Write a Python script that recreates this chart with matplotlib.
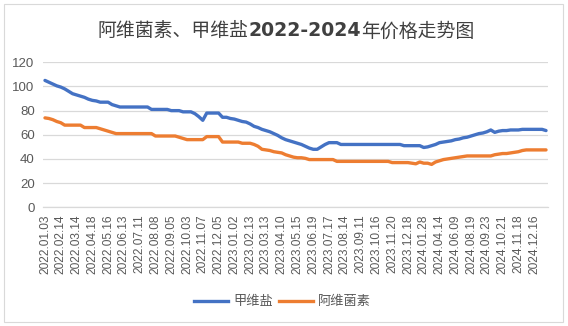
import matplotlib
matplotlib.use("Agg")
import matplotlib.pyplot as plt
from matplotlib.patches import Rectangle
from matplotlib.lines import Line2D

plt.rcParams['font.family'] = ['Noto Sans CJK SC', 'DejaVu Sans']

tick_labels = ["2022.01.03", "2022.02.14", "2022.03.14", "2022.04.18", "2022.05.16",
               "2022.06.13", "2022.07.11", "2022.08.08", "2022.09.05", "2022.10.03",
               "2022.11.07", "2022.12.05", "2023.01.02", "2023.02.13", "2023.03.13",
               "2023.04.10", "2023.05.15", "2023.06.19", "2023.07.17", "2023.08.14",
               "2023.09.11", "2023.10.16", "2023.11.20", "2023.12.18", "2024.01.28",
               "2024.04.14", "2024.06.09", "2024.08.19", "2024.09.23", "2024.10.21",
               "2024.11.18", "2024.12.16"]

emamectin = [105, 103.5, 102, 100.5, 99.5, 98, 96, 94, 93, 92,
             91, 89.5, 88.5, 88, 87, 87, 87, 85, 84,
             83, 83, 83, 83, 83, 83, 83, 83,
             81, 81, 81, 81, 81,
             80, 80, 80,
             79, 79, 79,
             77.5, 75, 72,
             78, 78, 78, 78,
             74.5, 74.5,
             73.5, 73, 72, 71, 70.5, 69, 67, 66, 64.5, 63.5, 62.5, 61, 59.5, 57.5,
             56, 55, 54, 53, 52, 50.5, 49, 48, 48, 50, 52, 53.5, 53.5, 53.5,
             52, 52, 52, 52, 52, 52, 52, 52, 52, 52, 52, 52, 52, 52, 52, 52,
             51, 51, 51, 51, 51,
             49.5, 50, 51, 52, 53.5, 54, 54.5, 55, 56, 56.5, 57.5, 58, 59, 60, 61,
             61.5, 62.5, 64, 62, 63, 63.5, 63.5, 64, 64, 64,
             64.5, 64.5, 64.5, 64.5, 64.5, 64.5,
             63.5]

abamectin = [74, 73.5, 72.5, 71, 70,
             68, 68, 68, 68, 68,
             66, 66, 66, 66,
             65, 64, 63, 62,
             61, 61, 61, 61, 61, 61, 61, 61, 61, 61,
             59, 59, 59, 59, 59, 59,
             58, 57,
             56, 56, 56, 56, 56,
             58.5, 58.5, 58.5, 58.5,
             54, 54, 54, 54, 54,
             53, 53, 53,
             52, 50.5, 48, 47.5, 47, 46, 45.5, 45, 43.5, 42.5, 41.5, 41, 41, 40.5, 39.5,
             39.5, 39.5, 39.5, 39.5, 39.5, 39.5,
             38, 38, 38, 38, 38, 38, 38, 38, 38, 38, 38, 38, 38, 38,
             37, 37, 37, 37, 37,
             36.5, 36, 37.5, 36.5, 36.5, 35.5, 37.5, 38.5, 39.5, 40, 40.5, 41, 41.5, 42,
             42.5, 42.5, 42.5, 42.5, 42.5, 42.5, 42.5,
             43.5, 44, 44.5, 44.5, 45, 45.5, 46, 47,
             47.5, 47.5, 47.5, 47.5, 47.5, 47.5]

series_names = ["甲维盐", "阿维菌素"]
colors = ["#4472C4", "#ED7D31"]

W, H = 568, 326
fig = plt.figure(figsize=(W / 100, H / 100), dpi=100)
fig.patch.set_facecolor("white")

# outer chart border
fig.add_artist(Rectangle((4 / W, 4 / H), (W - 9) / W, (H - 8) / H, transform=fig.transFigure,
                         fill=False, edgecolor="#D9D9D9", linewidth=0.8))

ax_left, ax_right = 43, 548
ax_top, ax_bottom = 62.3, 207.3
ax = fig.add_axes([ax_left / W, 1 - ax_bottom / H, (ax_right - ax_left) / W, (ax_bottom - ax_top) / H])

x = list(range(len(emamectin)))
ax.plot(x, emamectin, color=colors[0], linewidth=2.4, solid_capstyle="round", solid_joinstyle="round", zorder=3)
ax.plot(list(range(len(abamectin))), abamectin, color=colors[1], linewidth=2.4,
        solid_capstyle="round", solid_joinstyle="round", zorder=3)

ax.set_xlim(-0.5, len(emamectin) - 0.5)
ax.set_ylim(0, 120)
ax.set_yticks(range(0, 121, 20))
ax.set_xticks(range(0, 4 * len(tick_labels), 4))
ax.set_xticklabels(tick_labels, rotation=90, fontsize=8.6, color="#595959", family=['Liberation Sans'])
ax.tick_params(axis='y', labelsize=9.5, colors="#595959", length=0, pad=6)
ax.tick_params(axis='x', length=0, pad=5)
for lab in ax.get_yticklabels():
    lab.set_family(['Liberation Sans'])
ax.grid(axis='y', color="#D9D9D9", linewidth=0.9)
ax.set_axisbelow(True)
for s in ["top", "right", "left"]:
    ax.spines[s].set_visible(False)
ax.spines["bottom"].set_color("#D9D9D9")
ax.spines["bottom"].set_linewidth(0.9)

# title composed of pieces (digits bold)
parts = [("阿维菌素、甲维盐", "normal", ['Noto Sans CJK SC']),
         ("2022-2024", "bold", ['DejaVu Sans']),
         ("年价格走势图", "normal", ['Noto Sans CJK SC'])]
fig.canvas.draw()
renderer = fig.canvas.get_renderer()
texts = []
widths = []
for s, w, fam in parts:
    t = fig.text(0, 1 - 31 / H, s, fontsize=13.6, fontweight=w, family=fam, color="#404040",
                 va="center", ha="left")
    texts.append(t)
    widths.append(t.get_window_extent(renderer).width)
total = sum(widths)
start = (97 + 475) / 2 - total / 2
cur = start
for t, wdt in zip(texts, widths):
    t.set_x(cur / W)
    cur += wdt

# legend
handles = [Line2D([0], [0], color=c, linewidth=2.4) for c in colors]
fig.legend(handles, series_names, loc="center", bbox_to_anchor=(282.5 / W, 1 - 302 / H), ncol=2,
           frameon=False, fontsize=9.5, labelcolor="#595959", handlelength=2.6,
           columnspacing=0.4, handletextpad=0.4)

fig.savefig("out.png", dpi=100)
